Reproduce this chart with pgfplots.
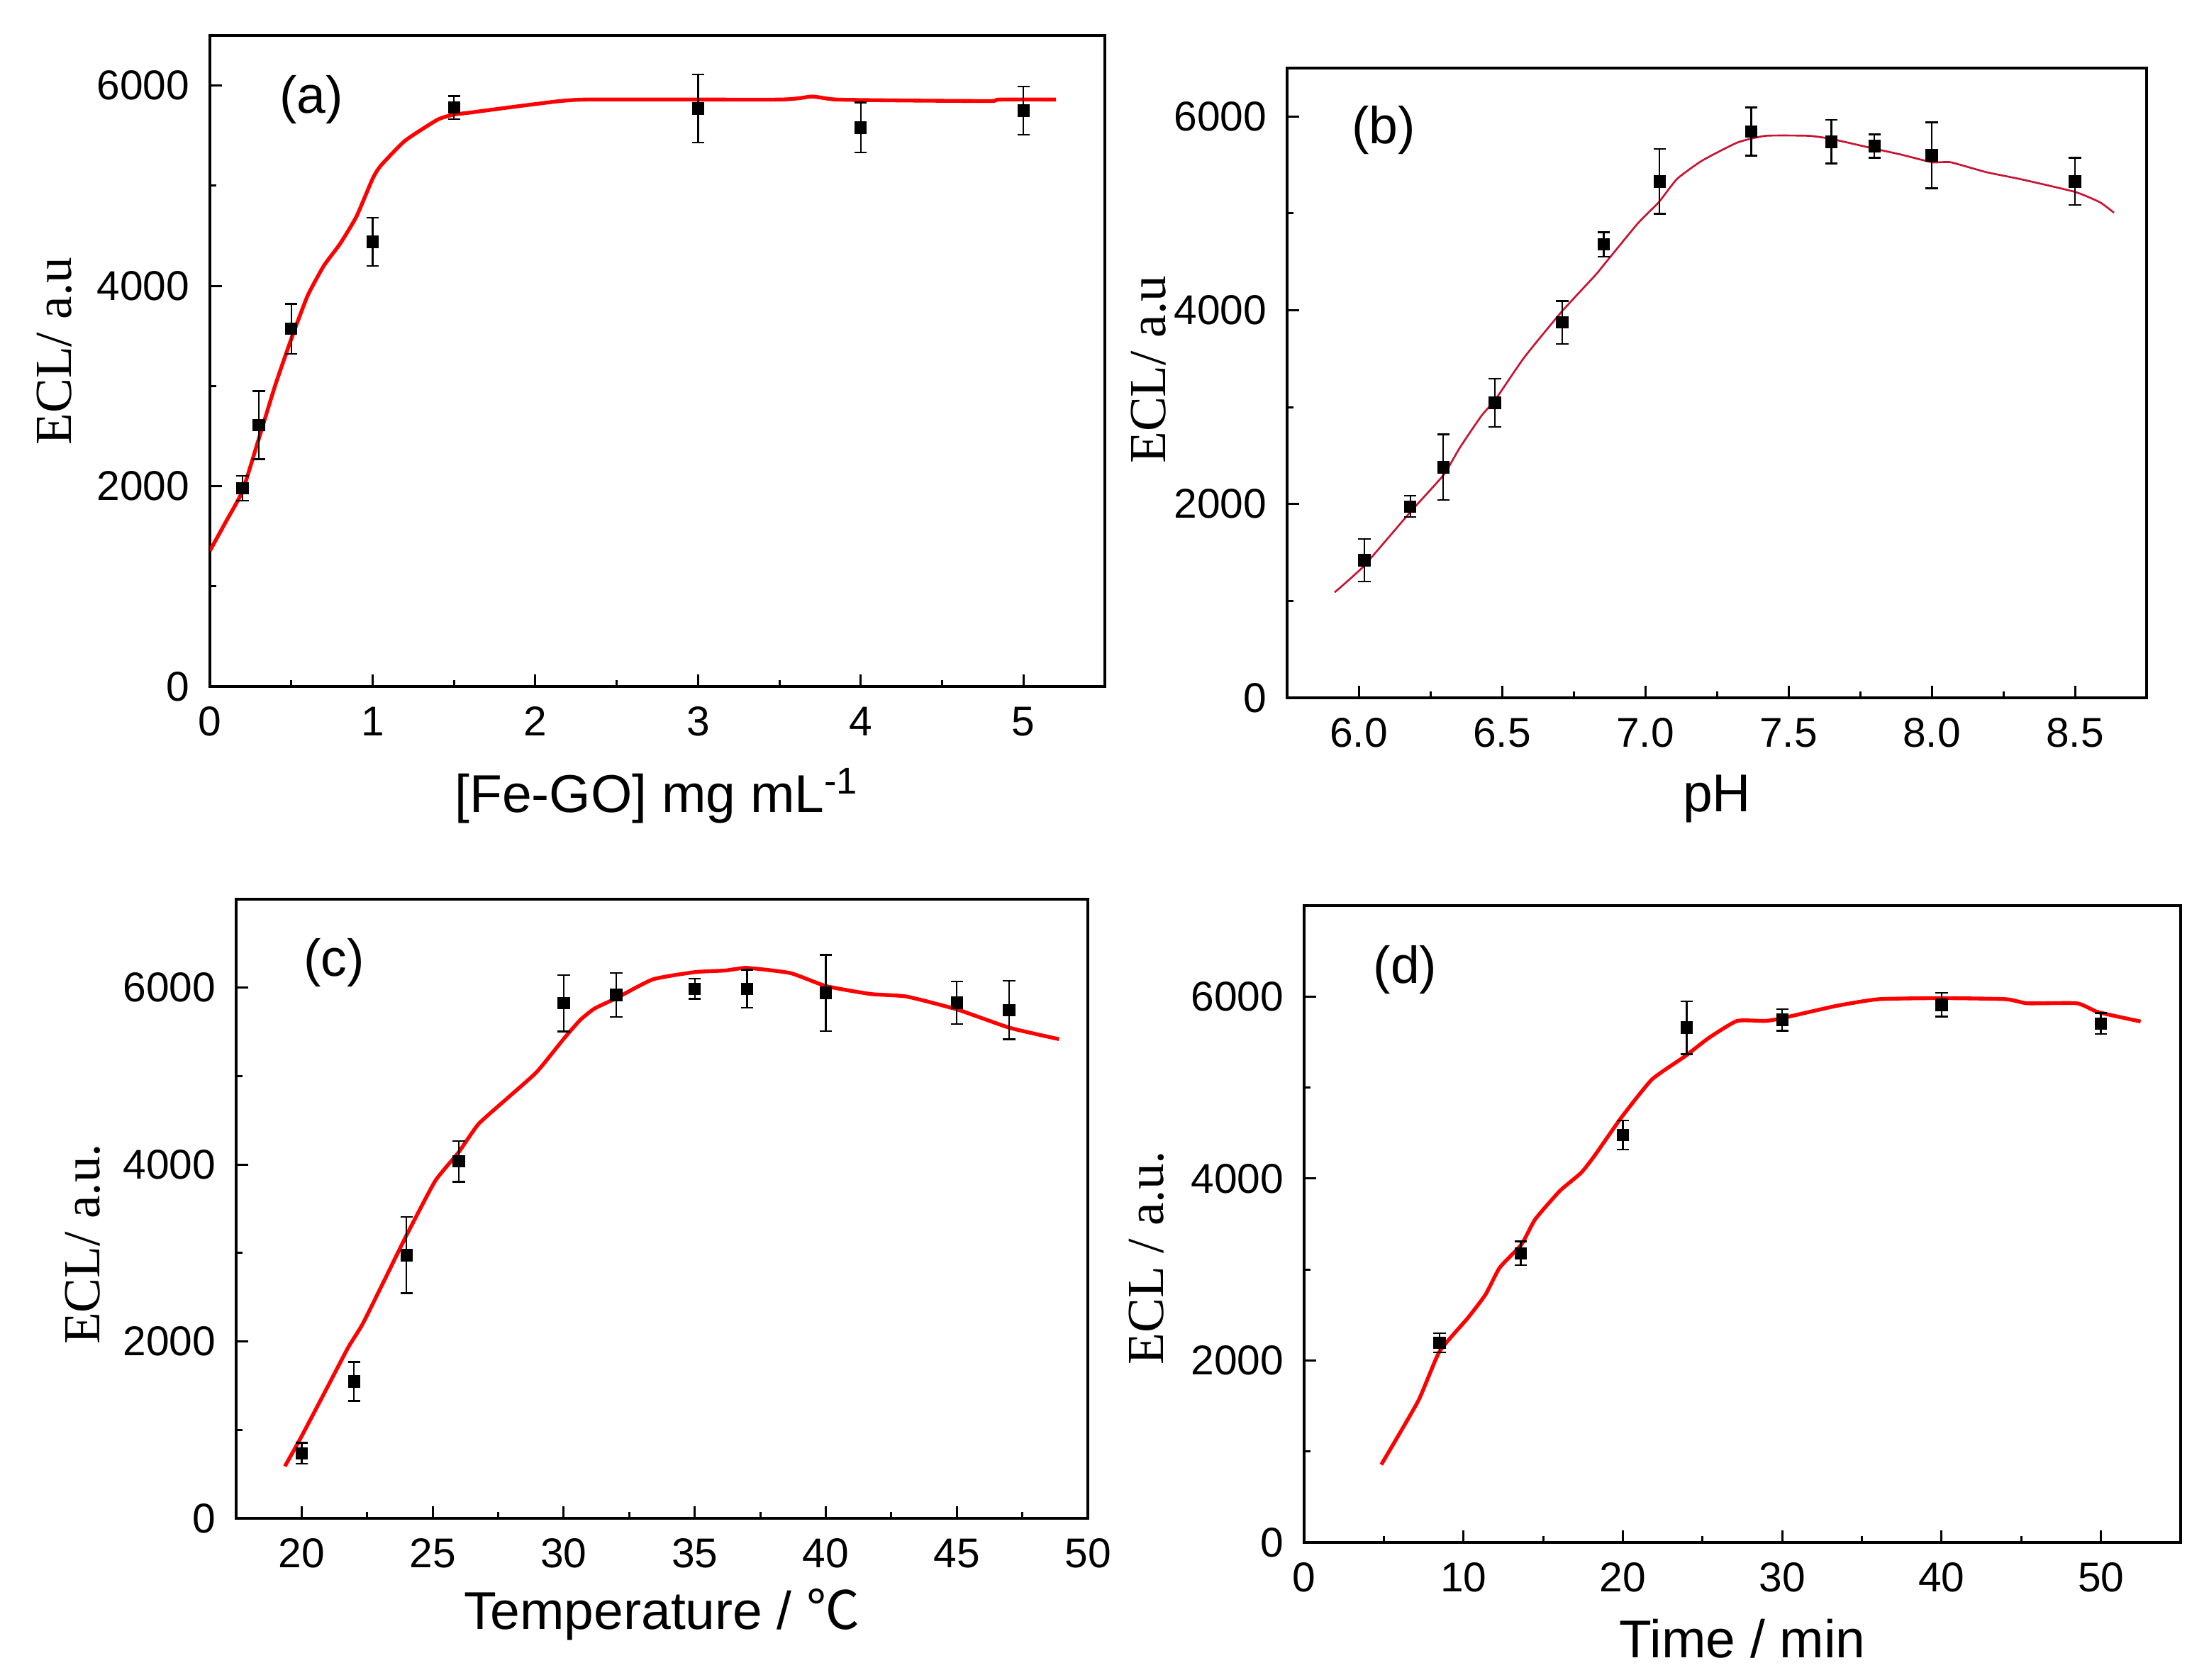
\documentclass[border=0pt]{standalone}
\usepackage{pgfplots}
\pgfplotsset{compat=1.18}
\usepackage{fontspec}
\setmainfont{Liberation Sans}
\newfontfamily\serif{Liberation Serif}
\newfontfamily\cjk{Noto Sans CJK SC}

\pgfplotsset{
  panel/.style={
    scale only axis, anchor=south west,
    tick align=inside, tick pos=left,
    axis line style={line width=0.55pt},
    every tick/.style={black, line width=0.45pt},
    major tick length=2.6pt, minor tick length=1.3pt,
    ymin=0, ytick={0,2000,4000,6000}, minor y tick num=1, minor x tick num=1,
    /pgf/number format/assume math mode=true,
    /pgf/number format/1000 sep={},
    scaled y ticks=false, scaled x ticks=false,
    tick label style={font=\fontsize{8.8}{10}\selectfont},
    yticklabel style={xshift=-0.8pt},
    xticklabel style={yshift=-0.8pt},
    xlabel style={anchor=center, font=\fontsize{11.25}{13}\selectfont},
    ylabel style={anchor=center, font=\fontsize{11}{13}\serif},
  },
  pts/.style={only marks, mark=square*, mark size=1.1pt, black,
    mark options={fill=black},
    error bars/.cd, y dir=both, y explicit,
    error bar style={line width=0.35pt, black},
    error mark options={rotate=90, mark size=1.3pt, line width=0.35pt, black}},
  fit/.style={red, line width=0.8pt, no marks, smooth, tension=0.3},
}
\newcommand{\plabel}[3]{\node[anchor=west, inner sep=0pt, font=\fontsize{11}{13}\selectfont] at (axis description cs:#1,#2) {#3};}

\begin{document}
\begin{tikzpicture}
\useasboundingbox (0,0) rectangle (467.25pt,355.2pt);

% (a)
\begin{axis}[panel, at={(44.4pt,210.0pt)}, width=189.3pt, height=137.7pt,
  xmin=0, xmax=5.5, ymax=6500, xtick={0,1,2,3,4,5},
  xlabel={[Fe-GO] mg mL\textsuperscript{-1}},
  xlabel style={at={(axis description cs:0.5,-0.168)}},
  ylabel={ECL/ a.u},
  ylabel style={at={(axis description cs:-0.1735,0.515)}}]
\addplot[fit] coordinates {
(0,1355) (0.1,1650) (0.2,1950) (0.3,2470) (0.4,3000) (0.5,3470) (0.6,3900)
(0.7,4200) (0.8,4420) (0.9,4690) (1.0,5070) (1.05,5200) (1.2,5450) (1.4,5660)
(1.5,5710) (1.6,5730) (2.0,5815) (2.3,5860) (3.5,5860) (3.7,5890) (3.85,5860)
(4.3,5850) (4.8,5845) (4.85,5860) (5.2,5860)};
\addplot[pts] table[x=x, y=y, y error=e] {
x y e
0.2 1980 125
0.3 2610 340
0.5 3570 250
1.0 4440 240
1.5 5780 115
3.0 5770 340
4.0 5580 250
5.0 5750 240
};
\plabel{0.077}{0.901}{(a)}
\end{axis}

% (b)
\begin{axis}[panel, at={(272.25pt,207.6pt)}, width=181.8pt, height=133.2pt,
  xmin=5.75, xmax=8.75, ymax=6500, xtick={6.0,6.5,7.0,7.5,8.0,8.5},
  xticklabel style={/pgf/number format/.cd, fixed, fixed zerofill, precision=1},
  xlabel={pH},
  xlabel style={at={(axis description cs:0.5,-0.16)}},
  ylabel={ECL/ a.u},
  ylabel style={at={(axis description cs:-0.161,0.521)}}]
\addplot[color={rgb,255:red,200;green,20;blue,50}, line width=0.4pt, no marks, smooth, tension=0.3] coordinates {
(5.916,1089) (6.017,1358) (6.181,1921) (6.295,2297) (6.355,2592) (6.429,2914)
(6.476,3075) (6.578,3515) (6.709,3988) (6.826,4363) (6.856,4471) (6.975,4900)
(7.047,5115) (7.111,5356) (7.198,5544) (7.322,5732) (7.421,5801) (7.570,5801)
(7.649,5769) (7.801,5667) (7.892,5608) (8.001,5528) (8.066,5528) (8.190,5426)
(8.314,5351) (8.500,5222) (8.587,5115) (8.636,5007)};
\addplot[pts] table[x=x, y=y, y error=e] {
x y e
6.02 1420 220
6.18 1975 110
6.295 2380 340
6.475 3045 250
6.71 3875 220
6.855 4680 125
7.05 5330 335
7.37 5845 250
7.65 5740 225
7.80 5695 120
8.00 5600 340
8.50 5330 245
};
\plabel{0.074}{0.901}{(b)}
\end{axis}

% (c)
\begin{axis}[panel, at={(49.95pt,34.05pt)}, width=180.15pt, height=130.95pt,
  xmin=17.5, xmax=50, ymax=7000, xtick={20,25,30,35,40,45,50},
  xlabel={Temperature / {\cjk ℃}},
  xlabel style={at={(axis description cs:0.5,-0.155)}},
  ylabel={ECL/ a.u.},
  ylabel style={at={(axis description cs:-0.18,0.443)}}]
\addplot[fit] coordinates {
(19.36,588) (20,929) (20.94,1459) (21.77,1929) (22.32,2194) (23.16,2694)
(23.99,3194) (25.09,3812) (25.98,4135) (26.75,4459) (27.86,4753) (28.97,5047)
(30.02,5429) (30.63,5635) (31.18,5765) (32.01,5882) (33.40,6094) (35.00,6176)
(36.16,6194) (36.99,6224) (38.65,6165) (40.01,6018) (41.70,5929) (43.08,5900)
(45.02,5753) (47.01,5547) (48.90,5418)};
\addplot[pts] table[x=x, y=y, y error=e] {
x y e
20 735 120
22 1547 220
24 2976 430
26 4035 230
30 5824 320
32 5918 250
35 5988 115
37 5988 215
40 5941 430
45 5829 240
47 5747 330
};
\plabel{0.078}{0.898}{(c)}
\end{axis}

% (d)
\begin{axis}[panel, at={(275.85pt,28.95pt)}, width=185.4pt, height=134.7pt,
  xmin=0, xmax=55, ymax=7000, xtick={0,10,20,30,40,50},
  xlabel={Time / min},
  xlabel style={at={(axis description cs:0.5,-0.151)}},
  ylabel={ECL / a.u.},
  ylabel style={at={(axis description cs:-0.18,0.447)}}]
\addplot[fit] coordinates {
(4.84,855) (7.16,1556) (8.49,2097) (10.27,2467) (11.38,2724) (12.27,3020)
(13.64,3276) (14.49,3550) (16.04,3863) (17.38,4063) (18.27,4262) (19.91,4672)
(21.82,5088) (23.91,5345) (25.38,5544) (27.16,5732) (28.93,5732) (29.96,5761)
(33.38,5897) (36.04,5971) (40,5983) (44.04,5971) (45.38,5926) (48.49,5926)
(49.82,5829) (52.49,5726)};
\addplot[pts] table[x=x, y=y, y error=e] {
x y e
8.5 2194 105
13.6 3179 130
20 4479 160
24 5658 290
30 5744 120
40 5909 130
50 5704 115
};
\plabel{0.078}{0.899}{(d)}
\end{axis}
\end{tikzpicture}
\end{document}
